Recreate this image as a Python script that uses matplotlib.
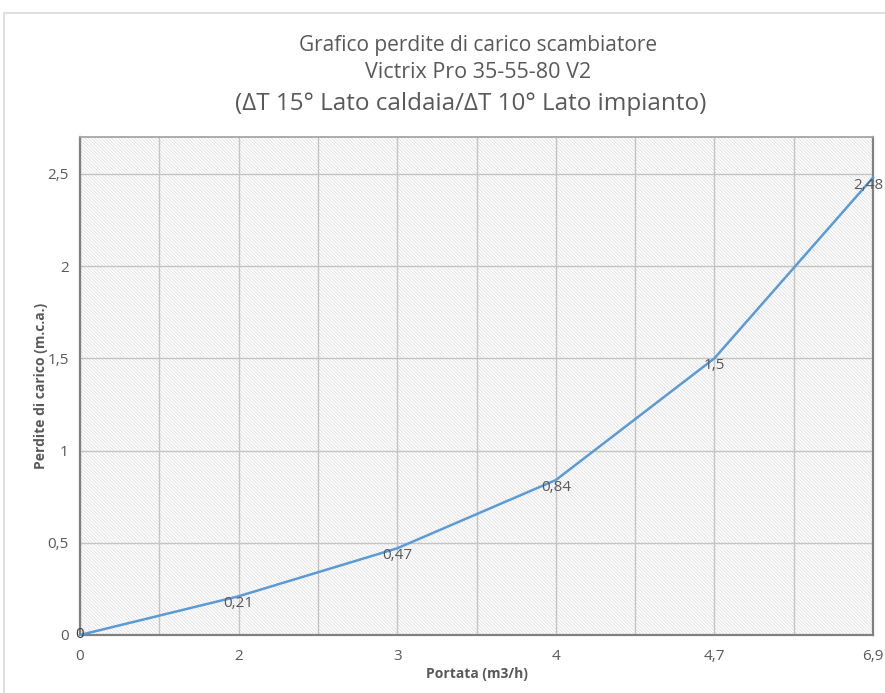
import matplotlib
matplotlib.use("Agg")
import matplotlib.pyplot as plt
from matplotlib.patches import Rectangle
from matplotlib.transforms import offset_copy
import numpy as np

plt.rcParams['font.family'] = ['Liberation Sans Narrow', 'Open Sans', 'DejaVu Sans']
plt.rcParams['hatch.color'] = '#dadada'
plt.rcParams['hatch.linewidth'] = 0.5

categories = ["0", "2", "3", "4", "4,7", "6,9"]
perdite = [0, 0.21, 0.47, 0.84, 1.5, 2.48]
labels = ["0", "0,21", "0,47", "0,84", "1,5", "2,48"]
y_ticks = [0, 0.5, 1, 1.5, 2, 2.5]
y_ticklabels = ["0", "0,5", "1", "1,5", "2", "2,5"]

txt = '#595959'
fig = plt.figure(figsize=(8.85, 6.93), dpi=100)
fig.patches.append(Rectangle((4/885, -0.1), 1.2, (693-13)/693 + 0.1, transform=fig.transFigure,
                             fill=False, edgecolor='#d9d9d9', lw=1.2))

ax = fig.add_axes([80/885, 58/693, 793/885, 498/693])
ax.patch.set_facecolor('white')
ax.patch.set_hatch('\\\\\\\\\\\\\\\\\\\\')
ax.patch.set_edgecolor('#dadada')
ax.patch.set_linewidth(0)

x = np.arange(len(categories))
ax.plot(x, perdite, color='#5B9BD5', lw=1.8, zorder=3, clip_on=False)
for xi, yi, lab in zip(x, perdite, labels):
    c = '#404040' if yi == 0 else txt
    dx = -5 if xi == len(categories) - 1 else 0
    tr = offset_copy(ax.transData, fig=fig, x=dx, y=0, units='dots')
    ax.text(xi, yi, lab, ha='center', va='top' if yi > 0 else 'center', transform=tr,
            fontsize=11, color=c, zorder=4, clip_on=False)

ax.set_xlim(0, len(categories) - 1)
ax.set_ylim(0, 2.7)
ax.set_xticks(x)
ax.set_xticklabels(categories)
ax.set_xticks(x[:-1] + 0.5, minor=True)
ax.set_yticks(y_ticks)
ax.set_yticklabels(y_ticklabels)
ax.tick_params(axis='both', length=0, labelsize=11, labelcolor=txt)
ax.tick_params(axis='y', pad=8)
ax.tick_params(axis='x', pad=10)
ax.tick_params(axis='x', which='minor', length=0)
ax.grid(True, which='both', axis='x', color='#c4c4c4', lw=1.0)
ax.grid(True, which='major', axis='y', color='#c4c4c4', lw=1.0)
ax.set_axisbelow(True)

for s in ['left', 'bottom', 'right']:
    ax.spines[s].set_color('#808080')
    ax.spines[s].set_linewidth(1.6)
ax.spines['top'].set_color('#a6a6a6')
ax.spines['top'].set_linewidth(1.3)

ax.set_xlabel("Portata (m3/h)", fontsize=10, fontweight='bold', color=txt, labelpad=2)
ax.set_ylabel("Perdite di carico (m.c.a.)", fontsize=10, fontweight='bold', color=txt, labelpad=0)

fig.text(0.54, 1 - 45/693, "Grafico perdite di carico scambiatore", ha='center', va='center',
         fontsize=15, color=txt)
fig.text(0.54, 1 - 73/693, "Victrix Pro 35-55-80 V2", ha='center', va='center',
         fontsize=15.5, color=txt)
fig.text(0.532, 1 - 104/693, "(\u0394T 15\u00b0 Lato caldaia/\u0394T 10\u00b0 Lato impianto)", ha='center',
         va='center', fontsize=17.5, color=txt)

fig.savefig("out.png", dpi=100)
